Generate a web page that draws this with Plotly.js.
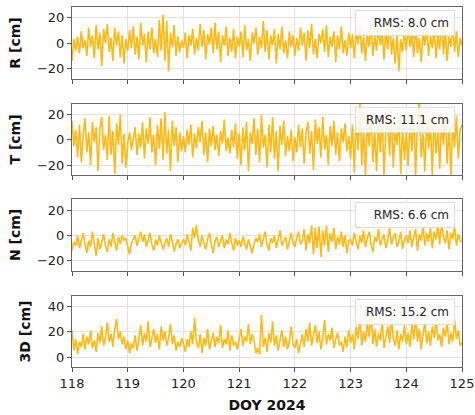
<!DOCTYPE html>
<html>
<head>
<meta charset="utf-8">
<script src="https://cdn.plot.ly/plotly-3.0.1.min.js"></script>
<style>html,body{margin:0;padding:0;background:#fff}#chart{width:475px;height:415px}</style>
</head>
<body>
<div id="chart"></div>
<script>
// ---- data ----
const startDOY = 118;
const samplesPerDay = 30;
const xTickVals = [118, 119, 120, 121, 122, 123, 124, 125];
const xTickText = ["118", "119", "120", "121", "122", "123", "124", "125"];
const panelTitles = ["R [cm]", "T [cm]", "N [cm]", "3D [cm]"];
const rmsLabels = ["RMS: 8.0 cm", "RMS: 11.1 cm", "RMS: 6.6 cm", "RMS: 15.2 cm"];
const xTitle = "DOY 2024";

const R = [
 -14, 3, -6, 5, -8, 9, -4, 2, -10, 12, -3, 6, -12, 14, -5, 8, -18, 11, 0, 15, -7, 4, -14, 12, -2, 9, -11, 6, -16, 3,
 -6, 10, -4, 13, -9, 5, -13, 16, -2, 7, -15, 9, -5, 12, -8, 3, -11, 18, -6, 22, -14, 17, -22, 8, -3, 14, -10, 5, -7, 2,
 -4, 8, -12, 6, -2, 11, -9, 4, -6, 15, -3, 10, -13, 7, -1, 12, -8, 16, -5, 9, -15, 6, -2, 13, -10, 4, -7, 11, -12, 5,
 -3, 9, -11, 14, -6, 3, -14, 8, 0, 12, -9, 5, -4, 17, -7, 10, -13, 6, -2, 11, -16, 7, -5, 13, -8, 2, -12, 9, -3, 6,
 -10, 4, -6, 12, -2, 8, -14, 10, -4, 15, -9, 3, -12, 7, 0, 11, -7, 14, -11, 5, -3, 9, -15, 6, -5, 13, -8, 2, -10, 8,
 -4, 7, -12, 10, -1, 13, -8, 5, -14, 9, -3, 16, -10, 6, -6, 12, -2, 8, -13, 11, -5, 19, -9, 4, -16, 7, -22, 3, -7, 10,
 -6, 12, -3, 8, -11, 14, -8, 4, -15, 9, -2, 13, -10, 6, -4, 11, -12, 7, -5, 21, -9, 10, -14, 5, -3, 15, -7, 9, -11, 4,
 -2
];
const T = [
 15, -5, 8, -14, 12, -18, 3, 17, -10, 6, -20, 14, -2, 10, -25, 9, 18, -8, 4, -16, 19, -12, 7, -27, 13, -4, 20, -19, 5, -22,
 -3, 6, -8, 2, 10, -12, 5, -6, 14, -15, 9, -3, 18, -10, 4, -20, 12, -7, 17, -16, 22, -11, 8, -25, 15, -5, 10, -18, 6, -9,
 3, -10, 8, -4, 12, -14, 5, -7, 10, -2, 15, -12, 6, -18, 9, -5, 11, -8, 4, -13, 7, -3, 16, -9, 2, -11, 8, -6, 13, -15,
 5, -20, 10, -8, 14, -25, 6, -3, 17, -12, 9, -18, 20, -6, 4, -22, 12, -10, 18, -15, 7, -25, 11, -4, 15, -13, 3, -9, 8, -17,
 2, -10, 12, -6, 9, -19, 5, 14, -11, 7, -24, 16, -3, 10, -14, 18, -8, 4, -20, 11, -5, 15, -12, 6, -17, 9, -2, 13, -9, 3,
 -15, 12, -26, 19, -8, 30, -20, 10, -28, 16, -5, 22, -18, 8, -25, 14, -10, 20, -28, 6, 17, -13, 24, -22, 9, -4, 18, -27, 11, -16,
 7, -21, 15, -9, 21, -28, 12, 32, -14, 5, -25, 18, -7, 13, -28, 20, -11, 9, -23, 16, -4, 22, -19, 10, -28, 14, -6, 19, -15, 8,
 12
];
const N = [
 -12, -5, -8, 0, -10, -3, 2, -7, -14, -4, -9, 3, -6, -16, -2, -11, -5, 1, -8, -13, -3, -9, 2, -6, -12, -1, -7, 0, -4, -2,
 -10, -15, -6, -3, 0, -8, -2, 3, -5, 1, -9, -4, 2, -7, -12, -3, -8, 0, -5, -11, -6, -2, -9, 1, -4, -13, -7, -3, -10, -6,
 -3, -8, 1, -5, -12, 6, -2, 8, -4, -9, 0, -6, -11, -3, 2, -7, -14, -4, -1, -9, -5, 0, -10, -3, -7, 2, -6, -12, -2, -8,
 -4, -9, -1, -6, -11, -3, -8, -14, -7, -2, -5, 1, -9, -4, 3, -7, -12, -2, -6, 0, -10, -3, 4, -8, -5, -1, -11, -4, 2, -6,
 -9, -2, 3, -7, -4, 5, -12, 1, -6, 8, -15, 6, -10, 7, -17, 4, -8, 8, -13, 2, -5, 6, -11, -1, -7, 3, -9, 0, -14, -4,
 -3, -8, 2, -5, -11, 0, -6, 4, -9, -2, 3, -7, -13, -1, -5, 5, -8, -3, 1, -10, -4, 6, -7, -2, 2, -9, -5, 3, -11, -3,
 0, -6, 4, -9, -2, 5, -12, 1, -4, 7, -8, 2, -5, 6, -10, 3, -3, 8, -7, 10, -1, -6, 4, -11, 2, -3, 7, -8, 1, -4,
 -5
];
const D3 = [
 21, 5, 14, 2, 12, 8, 18, 6, 16, 10, 21, 7, 13, 4, 19, 11, 24, 9, 15, 27, 12, 18, 8, 22, 30, 14, 20, 10, 16, 6,
 13, 3, 11, 7, 17, 5, 14, 25, 9, 19, 12, 28, 8, 16, 22, 11, 18, 6, 24, 13, 20, 9, 15, 26, 10, 17, 5, 12, 8, 15,
 11, 4, 14, 8, 20, 10, 31, 12, 7, 18, 3, 15, 9, 22, 6, 13, 19, 8, 16, 11, 25, 7, 14, 10, 21, 5, 17, 9, 12, 6,
 14, 22, 9, 16, 12, 26, 10, 18, 13, 3, 7, 2, 33, 8, 15, 4, 19, 11, 28, 9, 17, 5, 13, 21, 8, 16, 6, 12, 24, 10,
 7, 14, 3, 11, 18, 8, 22, 12, 27, 9, 16, 25, 11, 20, 6, 15, 29, 10, 18, 13, 23, 7, 14, 19, 9, 12, 4, 16, 8, 21,
 11, 18, 6, 24, 14, 31, 9, 20, 12, 27, 16, 35, 10, 22, 8, 19, 13, 28, 7, 17, 24, 11, 30, 15, 9, 21, 6, 18, 12, 25,
 10, 19, 8, 26, 14, 32, 12, 22, 6, 17, 28, 11, 20, 9, 24, 15, 30, 13, 18, 8, 23, 16, 27, 10, 19, 12, 29, 14, 21, 9,
 12
];

const series = [R, T, N, D3];
const yRanges = [[-28, 28], [-28, 28.5], [-28, 29], [-7.8, 47.8]];
const yTicks = [[-20, 0, 20], [-20, 0, 20], [-20, 0, 20], [0, 20, 40]];
const domains = [[0.8, 1.0], [0.533, 0.731], [0.267, 0.467], [0.0, 0.197]];

const x = R.map((_, i) => startDOY + i / samplesPerDay);

const FONT = "DejaVu Sans, Verdana, sans-serif";
const lineColor = "#FFB914";

const traces = series.map((ys, k) => ({
  x: x, y: ys, type: "scatter", mode: "lines",
  line: { color: lineColor, width: 1.6 },
  xaxis: k === 0 ? "x" : "x" + (k + 1),
  yaxis: k === 0 ? "y" : "y" + (k + 1),
  hoverinfo: "skip", showlegend: false
}));

const layout = {
  width: 475, height: 415,
  margin: { l: 72, r: 13, t: 7, b: 48 },
  paper_bgcolor: "#fff", plot_bgcolor: "#fff",
  font: { family: FONT, size: 13, color: "#222" },
  showlegend: false,
  annotations: []
};

for (let k = 0; k < 4; k++) {
  const sx = k === 0 ? "" : String(k + 1);
  layout["xaxis" + sx] = {
    domain: [0, 1], anchor: "y" + sx, range: [118, 125],
    tickvals: xTickVals, ticktext: xTickText,
    showticklabels: k === 3,
    ticks: "outside", ticklen: 4, tickcolor: "#555",
    showgrid: true, gridcolor: "#e2e2e2", gridwidth: 1,
    showline: true, mirror: true, linecolor: "#666", linewidth: 1,
    zeroline: false,
    tickfont: { family: FONT, size: 13, color: "#222" },
    title: k === 3 ? { text: xTitle, font: { family: FONT, size: 14, color: "#111", weight: "bold" }, standoff: 10 } : undefined
  };
  if (k > 0) layout["xaxis" + sx].matches = "x";
  layout["yaxis" + sx] = {
    domain: domains[k], anchor: "x" + sx, range: yRanges[k],
    tickvals: yTicks[k],
    ticks: "outside", ticklen: 4, tickcolor: "#555",
    showgrid: true, gridcolor: "#e2e2e2", gridwidth: 1,
    showline: true, mirror: true, linecolor: "#666", linewidth: 1,
    zeroline: false,
    tickfont: { family: FONT, size: 13, color: "#222" },
    title: { text: panelTitles[k], font: { family: FONT, size: 14, color: "#111", weight: "bold" }, standoff: 13 }
  };
  layout.annotations.push({
    text: rmsLabels[k],
    xref: "x" + sx + " domain", yref: "y" + sx + " domain",
    x: 1, y: 1, xanchor: "right", yanchor: "top", xshift: -7, yshift: -3,
    width: 88, align: "right",
    showarrow: false,
    font: { family: FONT, size: 12, color: "#222" },
    bgcolor: "rgba(255,255,255,0.85)", bordercolor: "#dddddd", borderwidth: 1, borderpad: 5
  });
}

Plotly.newPlot("chart", traces, layout, { staticPlot: true, displayModeBar: false });
</script>
</body>
</html>
